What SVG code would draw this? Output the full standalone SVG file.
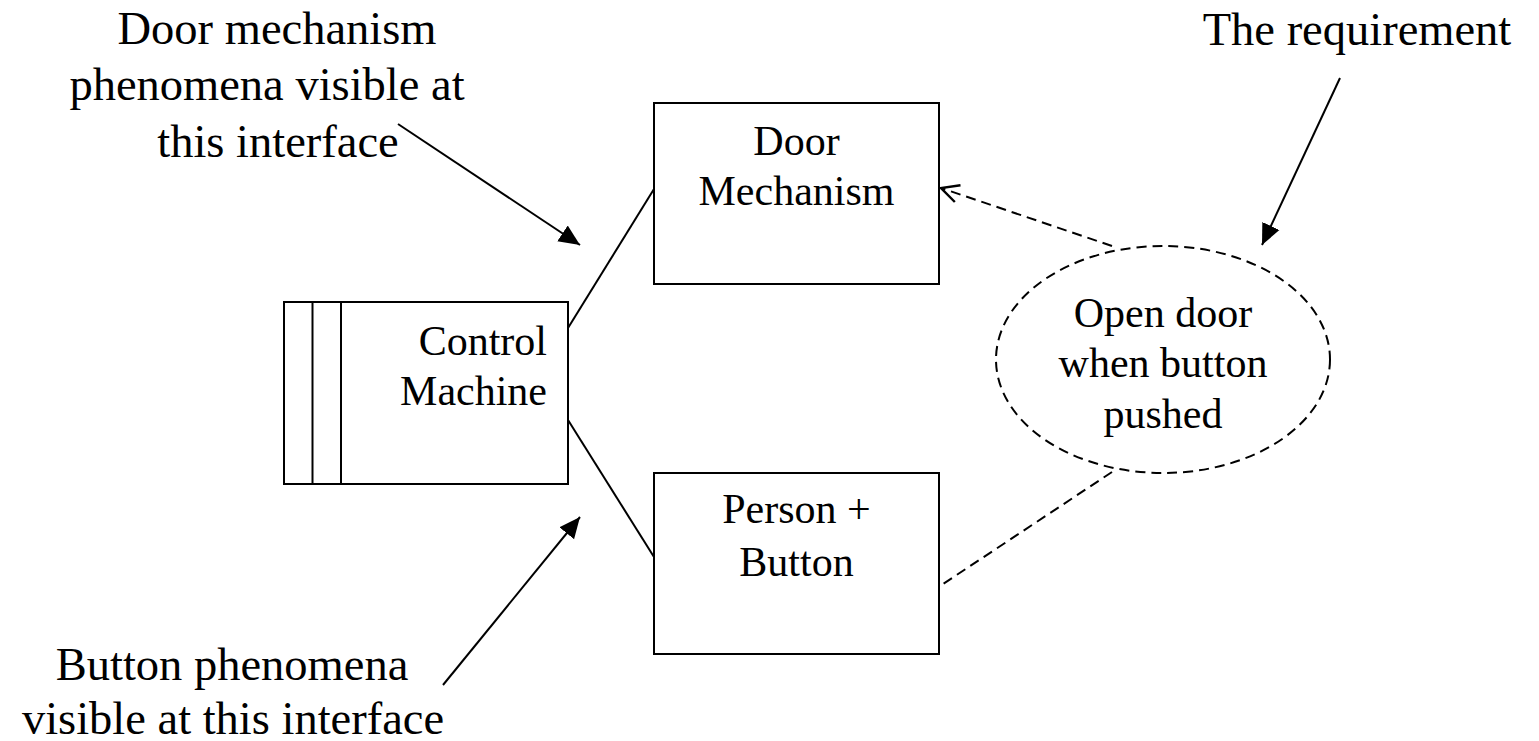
<svg xmlns="http://www.w3.org/2000/svg" width="1539" height="741" viewBox="0 0 1539 741">
<style>
text{font-family:"Liberation Serif","Times New Roman",serif;fill:#000}
.lbl{font-size:46.5px;text-anchor:middle}
.nt{font-size:42px;text-anchor:middle}
.box{fill:#fff;stroke:#000;stroke-width:2}
.ln{stroke:#000;stroke-width:2;fill:none}
.dash{stroke:#000;stroke-width:2;fill:none;stroke-dasharray:10 6}
</style>
<defs>
<marker id="solid" viewBox="0 0 20 20" refX="20" refY="10" markerWidth="21" markerHeight="21" markerUnits="userSpaceOnUse" orient="auto">
<path d="M0,1 L20,10 L0,19 Z" fill="#000"/>
</marker>
<marker id="open" viewBox="0 0 20 20" refX="19" refY="10" markerWidth="22" markerHeight="22" markerUnits="userSpaceOnUse" orient="auto">
<path d="M3,2 L19,10 L3,18" fill="none" stroke="#000" stroke-width="2.2"/>
</marker>
</defs>
<rect width="1539" height="741" fill="#fff"/>
<g id="connectors">
<line class="ln" x1="568" y1="328" x2="654" y2="189"/>
<line class="ln" x1="568" y1="420" x2="654" y2="557"/>
<line class="ln" x1="398" y1="124" x2="580" y2="245" marker-end="url(#solid)"/>
<line class="ln" x1="443" y1="685" x2="580" y2="517" marker-end="url(#solid)"/>
<line class="ln" x1="1340" y1="78" x2="1262" y2="245" marker-end="url(#solid)"/>
<line class="dash" x1="1112" y1="246" x2="941" y2="188" marker-end="url(#open)"/>
<line class="dash" x1="1112" y1="472" x2="940" y2="586"/>
</g>
<g id="control-machine">
<rect class="box" x="284" y="302" width="284" height="182"/>
<line class="ln" x1="312.5" y1="302" x2="312.5" y2="484"/>
<line class="ln" x1="341" y1="302" x2="341" y2="484"/>
<text class="nt" x="547" y="355" style="text-anchor:end">Control</text>
<text class="nt" x="547" y="405" style="text-anchor:end">Machine</text>
</g>
<g id="door-mechanism">
<rect class="box" x="654" y="103" width="285" height="181"/>
<text class="nt" x="796.5" y="155">Door</text>
<text class="nt" x="796.5" y="205">Mechanism</text>
</g>
<g id="person-button">
<rect class="box" x="654" y="473" width="285" height="181"/>
<text class="nt" x="796.5" y="523">Person +</text>
<text class="nt" x="796.5" y="576">Button</text>
</g>
<g id="requirement">
<ellipse class="dash" cx="1163" cy="359.5" rx="167" ry="113.5"/>
<text class="nt" x="1163" y="327">Open door</text>
<text class="nt" x="1163" y="377">when button</text>
<text class="nt" x="1163" y="428">pushed</text>
</g>
<g id="label-door-phenomena">
<text class="lbl" x="277" y="44">Door mechanism</text>
<text class="lbl" x="267" y="100">phenomena visible at</text>
<text class="lbl" x="278" y="157">this interface</text>
</g>
<g id="label-requirement">
<text class="lbl" x="1357" y="45">The requirement</text>
</g>
<g id="label-button-phenomena">
<text class="lbl" x="232" y="680">Button phenomena</text>
<text class="lbl" x="233" y="734">visible at this interface</text>
</g>
</svg>
